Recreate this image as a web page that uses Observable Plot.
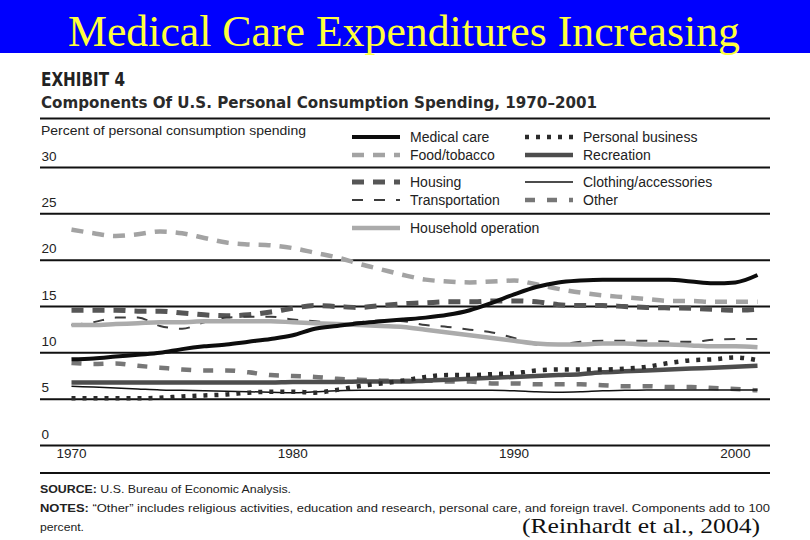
<!DOCTYPE html>
<html><head><meta charset="utf-8">
<script src="https://cdn.jsdelivr.net/npm/d3@7"></script>
<script src="https://cdn.jsdelivr.net/npm/@observablehq/plot@0.6"></script>
<style>
body{margin:0;background:#fff}
#root{position:relative;width:810px;height:540px;overflow:hidden;background:#fff}
#root svg{position:absolute;left:0;top:0}
</style></head><body><div id="root"></div>
<script>
// ---------- data ----------
const years = [1970,1971,1972,1973,1974,1975,1976,1977,1978,1979,1980,1981,1982,1983,1984,1985,1986,1987,1988,1989,1990,1991,1992,1993,1994,1995,1996,1997,1998,1999,2000,2001];
const medicalCare = [9.3,9.4,9.6,9.8,10.0,10.4,10.7,10.9,11.2,11.5,11.9,12.6,12.9,13.2,13.4,13.6,13.8,14.1,14.6,15.4,16.3,17.1,17.6,17.8,17.9,17.9,17.9,17.9,17.7,17.5,17.6,18.4];
const foodTobacco = [23.3,22.9,22.6,22.8,23.1,22.9,22.4,21.9,21.7,21.6,21.3,20.8,20.3,19.6,19.0,18.4,17.9,17.7,17.6,17.7,17.8,17.4,16.9,16.5,16.2,16.0,15.8,15.6,15.6,15.5,15.5,15.5];
const housing = [14.6,14.6,14.6,14.5,14.5,14.3,14.1,14.0,14.1,14.4,14.8,15.1,15.0,14.9,15.1,15.3,15.4,15.5,15.5,15.6,15.6,15.5,15.2,15.1,15.1,15.0,14.9,14.85,14.8,14.7,14.6,14.7];
const transportation = [13.0,13.3,13.8,13.8,12.9,12.6,13.3,13.8,13.9,13.9,13.6,13.4,13.2,13.3,13.5,13.4,13.0,12.8,12.5,12.2,11.6,10.9,10.9,11.2,11.3,11.3,11.3,11.2,11.2,11.4,11.5,11.5];
const householdOperation = [13.0,13.0,13.1,13.2,13.3,13.3,13.4,13.4,13.4,13.4,13.3,13.2,13.1,13.0,12.9,12.8,12.5,12.2,11.9,11.6,11.3,11.0,10.9,10.9,11.0,11.0,10.9,10.9,10.8,10.7,10.7,10.6];
const personalBusiness = [5.1,5.1,5.1,5.1,5.15,5.3,5.4,5.5,5.7,5.8,5.8,5.7,6.0,6.4,6.7,7.0,7.4,7.6,7.6,7.7,7.8,8.1,8.2,8.2,8.2,8.3,8.5,8.9,9.2,9.3,9.5,9.2];
const recreation = [6.8,6.8,6.8,6.8,6.8,6.8,6.8,6.8,6.8,6.8,6.85,6.85,6.85,6.9,6.9,6.9,7.0,7.1,7.2,7.3,7.4,7.5,7.6,7.7,7.9,8.0,8.1,8.2,8.3,8.4,8.5,8.6];
const clothing = [6.4,6.3,6.2,6.1,6.0,5.95,5.9,5.85,5.8,5.75,5.7,5.8,5.9,5.95,5.95,5.95,5.95,5.95,5.95,5.95,5.9,5.8,5.75,5.8,5.9,5.95,6.0,6.0,6.0,6.0,6.0,6.0];
const other = [8.9,8.8,8.85,8.6,8.4,8.2,8.1,8.1,7.9,7.6,7.5,7.4,7.2,7.1,7.0,7.0,7.0,6.9,6.9,6.7,6.7,6.6,6.6,6.6,6.5,6.4,6.4,6.3,6.3,6.2,6.1,5.95];

const seriesNames = ["Medical care","Food/tobacco","Housing","Transportation","Household operation","Personal business","Recreation","Clothing/accessories","Other"];
const seriesValues = [medicalCare,foodTobacco,housing,transportation,householdOperation,personalBusiness,recreation,clothing,other];
const yTicks = [0,5,10,15,20,25,30];
const xTicks = [1970,1980,1990,2000];

const slideTitle = "Medical Care Expenditures Increasing";
const exhibitLabel = "EXHIBIT 4";
const chartTitle = "Components Of U.S. Personal Consumption Spending, 1970\u20132001";
const yLabel = "Percent of personal consumption spending";
const sourceText = ["SOURCE:", " U.S. Bureau of Economic Analysis."];
const notesText = ["NOTES:", " \u201COther\u201D includes religious activities, education and research, personal care, and foreign travel. Components add to 100"];
const notesText2 = "percent.";
const citation = "(Reinhardt et al., 2004)";

// ---------- styles ----------
const styles = {
  "Medical care":        {stroke:"#0d0d0d", w:4,   dash:null},
  "Food/tobacco":        {stroke:"#a3a3a3", w:4.5, dash:"12,9"},
  "Housing":             {stroke:"#565656", w:5,   dash:"12,9"},
  "Transportation":      {stroke:"#3c3c3c", w:2,   dash:"11,11"},
  "Household operation": {stroke:"#ababab", w:4.5, dash:null},
  "Personal business":   {stroke:"#2b2b2b", w:4.5, dash:"4,7"},
  "Recreation":          {stroke:"#4d4d4d", w:4.5, dash:null},
  "Clothing/accessories":{stroke:"#111111", w:1.5, dash:null},
  "Other":               {stroke:"#777777", w:4.5, dash:"10,12"}
};
const drawOrder = ["Food/tobacco","Housing","Transportation","Household operation","Other","Clothing/accessories","Recreation","Personal business","Medical care"];

const rows = [];
seriesNames.forEach((name, s) => years.forEach((yr, i) => rows.push({series: name, year: yr, value: seriesValues[s][i]})));

const sansFont = "'Liberation Sans', Arial, sans-serif";
const narrowFont = "'Liberation Sans Narrow', 'DejaVu Sans Condensed', 'Liberation Sans', sans-serif";

const root = document.getElementById("root");

// ---------- plot ----------
const plot = Plot.plot({
  width: 810, height: 475,
  marginLeft: 40, marginRight: 40, marginTop: 167, marginBottom: 30,
  x: {domain: [1970, 2001], insetLeft: 31, insetRight: 13, axis: null},
  y: {domain: [0, 30], axis: null},
  style: {fontFamily: sansFont, background: "transparent", overflow: "visible"},
  marks: [
    Plot.ruleY(yTicks, {stroke: "#111", strokeWidth: 2}),
    ...drawOrder.map(name => Plot.line(rows.filter(d => d.series === name), {
      x: "year", y: "value", curve: "monotone-x",
      stroke: styles[name].stroke, strokeWidth: styles[name].w,
      strokeDasharray: styles[name].dash || undefined, strokeLinecap: "butt", strokeLinejoin: "round"
    })),
    Plot.text(yTicks, {y: d => d, text: d => String(d), frameAnchor: "left", textAnchor: "start", dx: 1, dy: -11, fontSize: 13.5, fill: "#222"}),
    Plot.text(xTicks, {x: d => d, text: d => String(d), frameAnchor: "bottom", dy: 12, fontSize: 13.5, fill: "#222"})
  ]
});
root.appendChild(plot);

// ---------- overlay: banner, headings, legend, notes ----------
const ov = d3.select(root).append("svg").attr("width", 810).attr("height", 540);
ov.append("rect").attr("x", 0).attr("y", 0).attr("width", 810).attr("height", 53).attr("fill", "#0000fe");
ov.append("text").attr("x", 68).attr("y", 46).attr("font-family", "'Liberation Serif','Times New Roman',serif")
  .attr("font-size", 45).attr("fill", "#ffff3c").attr("textLength", 672).attr("lengthAdjust", "spacingAndGlyphs").text(slideTitle);

ov.append("text").attr("x", 41).attr("y", 86).attr("font-family", narrowFont).attr("font-weight", "bold")
  .attr("font-size", 19).attr("fill", "#222").attr("textLength", 84).attr("lengthAdjust", "spacingAndGlyphs").text(exhibitLabel);
ov.append("text").attr("x", 41).attr("y", 108).attr("font-family", narrowFont).attr("font-weight", "bold")
  .attr("font-size", 15.5).attr("fill", "#2a2a2a").attr("textLength", 556).attr("lengthAdjust", "spacingAndGlyphs").text(chartTitle);
ov.append("line").attr("x1", 40).attr("x2", 770).attr("y1", 118.5).attr("y2", 118.5).attr("stroke", "#111").attr("stroke-width", 2);
ov.append("text").attr("x", 41).attr("y", 135).attr("font-family", sansFont)
  .attr("font-size", 12.5).attr("fill", "#222").attr("textLength", 265).attr("lengthAdjust", "spacingAndGlyphs").text(yLabel);

// legend
const legendLayout = [
  ["Medical care", 0, 0], ["Personal business", 1, 0],
  ["Food/tobacco", 0, 1], ["Recreation", 1, 1],
  ["Housing", 0, 2], ["Clothing/accessories", 1, 2],
  ["Transportation", 0, 3], ["Other", 1, 3],
  ["Household operation", 0, 4]
];
const colX = [352, 525], rowY = [137, 155, 182, 200, 228];
const lg = ov.append("g");
legendLayout.forEach(([name, c, r]) => {
  const st = styles[name];
  lg.append("line").attr("x1", colX[c]).attr("x2", colX[c] + 48).attr("y1", rowY[r]).attr("y2", rowY[r])
    .attr("stroke", st.stroke).attr("stroke-width", st.w).attr("stroke-dasharray", st.dash);
  lg.append("text").attr("x", colX[c] + 58).attr("y", rowY[r] + 5).attr("font-family", sansFont)
    .attr("font-size", 14).attr("fill", "#222").text(name);
});

// bottom rule and notes
ov.append("line").attr("x1", 40).attr("x2", 770).attr("y1", 473).attr("y2", 473).attr("stroke", "#111").attr("stroke-width", 2);
const s1 = ov.append("text").attr("x", 40).attr("y", 493).attr("font-family", sansFont).attr("font-size", 11.5).attr("fill", "#222")
  .attr("textLength", 251).attr("lengthAdjust", "spacingAndGlyphs");
s1.append("tspan").attr("font-weight", "bold").text(sourceText[0]);
s1.append("tspan").text(sourceText[1]);
const s2 = ov.append("text").attr("x", 40).attr("y", 512).attr("font-family", sansFont).attr("font-size", 11.5).attr("fill", "#222")
  .attr("textLength", 730).attr("lengthAdjust", "spacingAndGlyphs");
s2.append("tspan").attr("font-weight", "bold").text(notesText[0]);
s2.append("tspan").text(notesText[1]);
ov.append("text").attr("x", 40).attr("y", 531).attr("font-family", sansFont).attr("font-size", 11.5).attr("fill", "#222")
  .attr("textLength", 44).attr("lengthAdjust", "spacingAndGlyphs").text(notesText2);
ov.append("text").attr("x", 522).attr("y", 533).attr("font-family", "'Liberation Serif','Times New Roman',serif")
  .attr("font-size", 21).attr("fill", "#111").attr("textLength", 238).attr("lengthAdjust", "spacingAndGlyphs").text(citation);
</script></body></html>
